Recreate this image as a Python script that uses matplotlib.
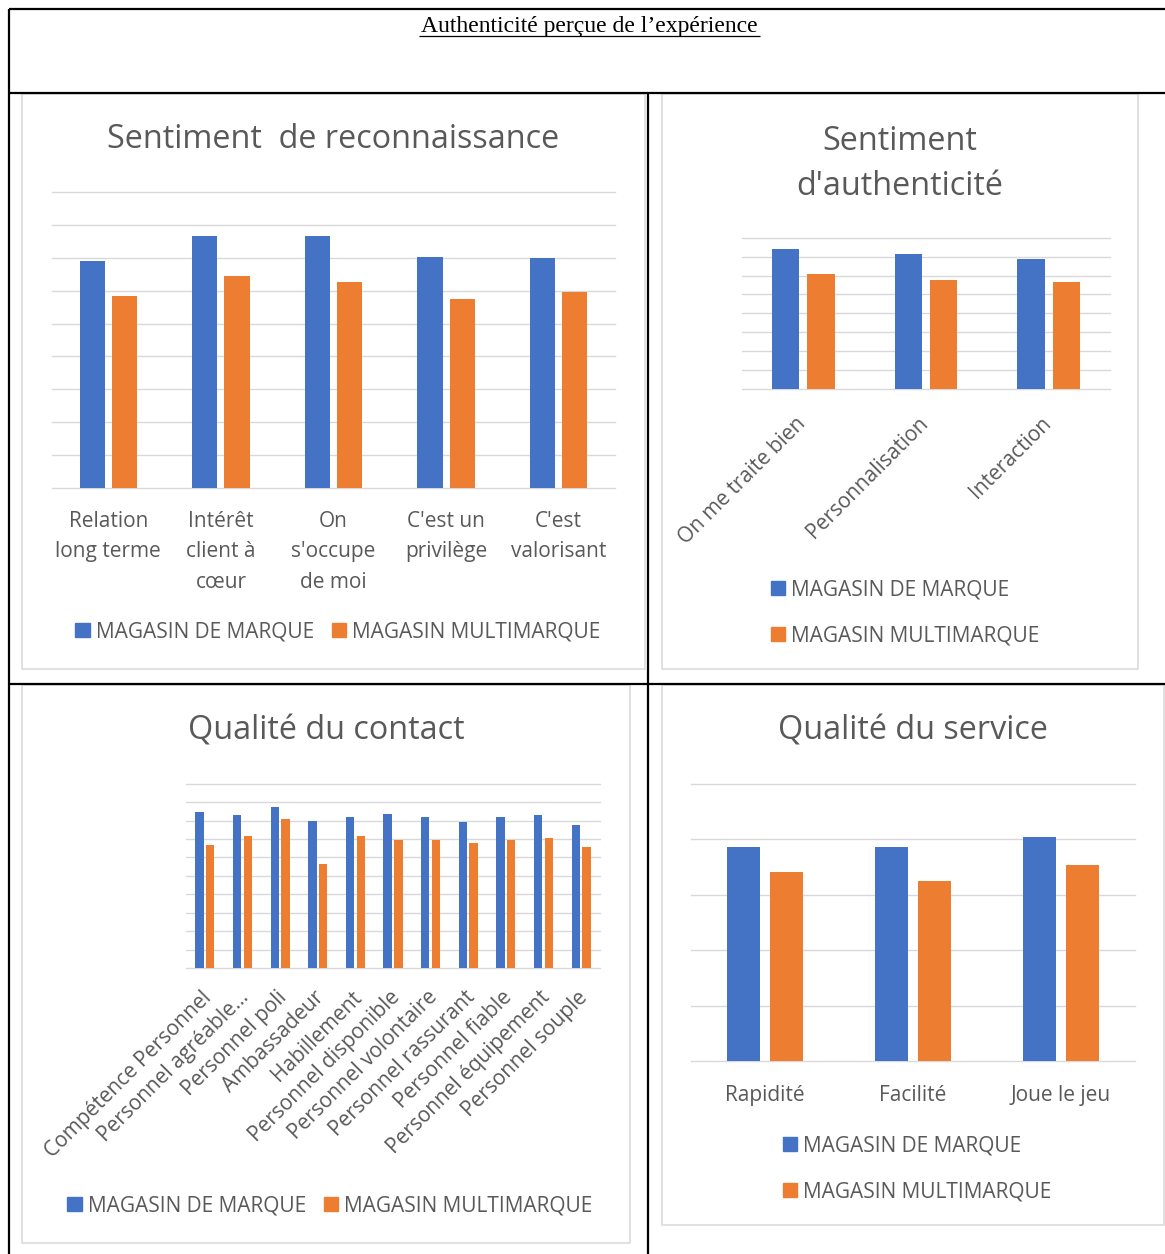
import matplotlib
matplotlib.use('Agg')
import numpy as np
import matplotlib.pyplot as plt
from matplotlib.lines import Line2D
from matplotlib.patches import Rectangle, Patch
from matplotlib.transforms import ScaledTranslation

# couleurs Excel
BLEU = '#4472C4'
ORANGE = '#ED7D31'
GRIS_TEXTE = '#595959'
GRIS_GRILLE = '#d9d9d9'

series_labels = ['MAGASIN DE MARQUE', 'MAGASIN MULTIMARQUE']

# Sentiment de reconnaissance
reco_cats = ['Relation\nlong terme', 'Intérêt\nclient à\ncœur', 'On\ns\'occupe\nde moi',
             'C\'est un\nprivilège', 'C\'est\nvalorisant']
reco_marque = [3.46, 3.83, 3.83, 3.51, 3.50]
reco_multi = [2.92, 3.22, 3.14, 2.88, 2.98]

# Sentiment d'authenticité
auth_cats = ['On me traite bien', 'Personnalisation', 'Interaction']
auth_marque = [3.70, 3.56, 3.44]
auth_multi = [3.04, 2.88, 2.84]

# Qualité du contact
contact_cats = ['Compétence Personnel', 'Personnel agréable...', 'Personnel poli', 'Ambassadeur',
                'Habillement', 'Personnel disponible', 'Personnel volontaire', 'Personnel rassurant',
                'Personnel fiable', 'Personnel équipement', 'Personnel souple']
contact_marque = [4.24, 4.14, 4.36, 3.99, 4.09, 4.19, 4.09, 3.95, 4.11, 4.15, 3.89]
contact_multi = [3.35, 3.58, 4.04, 2.83, 3.58, 3.48, 3.47, 3.40, 3.47, 3.53, 3.27]

# Qualité du service
service_cats = ['Rapidité', 'Facilité', 'Joue le jeu']
service_marque = [3.85, 3.86, 4.04]
service_multi = [3.41, 3.25, 3.53]

W, H = 1165, 1254
plt.rcParams['font.family'] = ['Open Sans', 'DejaVu Sans']
fig = plt.figure(figsize=(W / 100, H / 100), dpi=100)


def fx(x):
    return x / W


def fy(y):
    return 1 - y / H


def ligne(x0, y0, x1, y1, color='black', lw=1.6):
    fig.add_artist(Line2D([fx(x0), fx(x1)], [fy(y0), fy(y1)], color=color, lw=lw,
                          transform=fig.transFigure, solid_capstyle='butt'))


def cadre(x0, y0, x1, y1):
    fig.add_artist(Rectangle((fx(x0), fy(y1)), fx(x1) - fx(x0), fy(y0) - fy(y1),
                             transform=fig.transFigure, fill=False,
                             edgecolor=GRIS_GRILLE, lw=1.1))


def graphique(box, cats, v1, v2, ymax, step, rotation=0, pad=17, fs=15, decal=(0, 0)):
    x0, y0, x1, y1 = box
    ax = fig.add_axes([fx(x0), fy(y1), fx(x1) - fx(x0), fy(y0) - fy(y1)])
    n = len(cats)
    x = np.arange(n)
    w = 0.223
    ax.bar(x - 0.143, v1, width=w, color=BLEU, zorder=3)
    ax.bar(x + 0.143, v2, width=w, color=ORANGE, zorder=3)
    for v in np.arange(0, ymax + step / 2, step):
        ax.axhline(v, color=GRIS_GRILLE, lw=1.0, zorder=1, clip_on=False)
    ax.set_xlim(-0.5, n - 0.5)
    ax.set_ylim(0, ymax)
    ax.set_yticks([])
    ax.set_xticks(x)
    if rotation:
        ax.set_xticklabels(cats, rotation=rotation, ha='right', rotation_mode='anchor',
                           fontsize=fs, color=GRIS_TEXTE)
    else:
        ax.set_xticklabels(cats, fontsize=fs, color=GRIS_TEXTE, linespacing=1.57)
    ax.tick_params(axis='x', length=0, pad=pad)
    if decal != (0, 0):
        off = ScaledTranslation(decal[0] / 100, -decal[1] / 100, fig.dpi_scale_trans)
        for lab in ax.get_xticklabels():
            lab.set_transform(lab.get_transform() + off)
    for s in ax.spines.values():
        s.set_visible(False)
    ax.patch.set_alpha(0)
    return ax


# tableau
ligne(9, 9, W, 9)
ligne(9, 9, 9, H)
ligne(9, 93, W, 93)
ligne(9, 684, W, 684)
ligne(648, 93, 648, H)

fig.text(fx(589), fy(32), 'Authenticité perçue de l\u2019expérience', ha='center', va='baseline',
         fontsize=17, family=['Liberation Serif'], color='black')
ligne(419, 36, 760, 36, lw=0.9)

# cadres des graphiques
cadre(22, 94, 645, 669)
cadre(662, 94, 1138, 669)
cadre(22, 685, 630, 1243)
cadre(662, 685, 1164, 1225)

# titres
fig.text(fx(333), fy(139), 'Sentiment  de reconnaissance', ha='center', va='center',
         fontsize=23.3, color=GRIS_TEXTE)
fig.text(fx(900), fy(164), 'Sentiment\nd\'authenticité', ha='center', va='center',
         fontsize=23.3, color=GRIS_TEXTE, linespacing=1.45)
fig.text(fx(326), fy(731), 'Qualité du contact', ha='center', va='center',
         fontsize=23.3, color=GRIS_TEXTE)
fig.text(fx(913), fy(731), 'Qualité du service', ha='center', va='center',
         fontsize=23.3, color=GRIS_TEXTE)

graphique((52, 192.3, 615, 487.7), reco_cats, reco_marque, reco_multi, 4.5, 0.5)
graphique((742, 237.7, 1110, 389), auth_cats, auth_marque, auth_multi, 4.0, 0.5,
          rotation=45, pad=10, decal=(-8, 10))
graphique((186, 783.7, 600, 968), contact_cats, contact_marque, contact_multi, 5.0, 0.5,
          rotation=45, pad=10, decal=(-4, 5))
graphique((691, 783.7, 1135, 1061), service_cats, service_marque, service_multi, 5.0, 1.0)

# légendes
handles = [Patch(color=BLEU), Patch(color=ORANGE)]


def legende(cx, cy, ncol):
    fig.legend(handles, series_labels, loc='center', bbox_to_anchor=(fx(cx), fy(cy)),
               ncol=ncol, frameon=False, fontsize=15, labelcolor=GRIS_TEXTE,
               handlelength=0.68, handleheight=0.68, handletextpad=0.3,
               columnspacing=0.85, labelspacing=1.2, borderpad=0, borderaxespad=0)


legende(338, 632, 2)
legende(905, 613, 1)
legende(330, 1206, 2)
legende(917, 1169, 1)

fig.savefig('out.png', dpi=100)
